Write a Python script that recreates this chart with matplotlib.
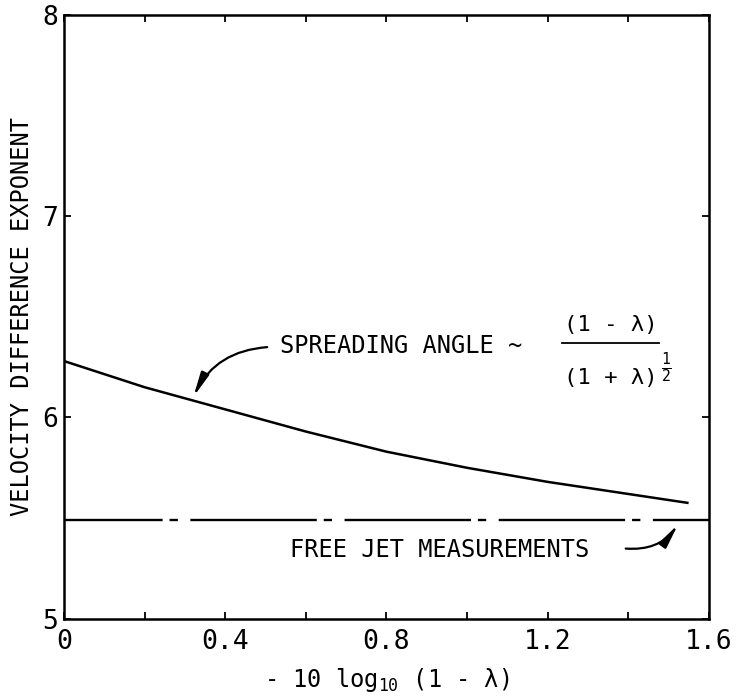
import matplotlib
matplotlib.use('Agg')
import matplotlib.pyplot as plt

plt.rcParams['font.family'] = ['DejaVu Sans Mono', 'DejaVu Sans']
plt.rcParams['mathtext.fontset'] = 'custom'
plt.rcParams['mathtext.rm'] = 'DejaVu Sans Mono'
plt.rcParams['mathtext.it'] = 'DejaVu Sans Mono'
plt.rcParams['lines.scale_dashes'] = False

# curve
spread_x = [0, 0.1, 0.2, 0.3, 0.4, 0.5, 0.6, 0.7, 0.8, 0.9, 1.0, 1.1, 1.2, 1.3, 1.4, 1.45, 1.55]
spread_y = [6.28, 6.215, 6.15, 6.095, 6.04, 5.985, 5.93, 5.88, 5.83, 5.79, 5.75, 5.715, 5.68, 5.65, 5.62, 5.605, 5.575]

# free jet measurements (constant)
jet_x = [0, 1.6]
jet_y = [5.49, 5.49]

x_ticks = [0, 0.2, 0.4, 0.6, 0.8, 1.0, 1.2, 1.4, 1.6]
x_labels = ['0', '', '0.4', '', '0.8', '', '1.2', '', '1.6']
y_ticks = [5, 6, 7, 8]
y_labels = ['5', '6', '7', '8']

fig = plt.figure(figsize=(7.36, 7.0), dpi=100)
ax = fig.add_axes([0.087, 0.116, 0.876, 0.863])

ax.plot(spread_x, spread_y, color='black', lw=1.8, solid_capstyle='butt')
ax.plot(jet_x, jet_y, color='black', lw=1.7,
        linestyle=(20, (91, 5, 6, 9)))

ax.set_xlim(0, 1.6)
ax.set_ylim(5, 8)
ax.set_xticks(x_ticks)
ax.set_xticklabels(x_labels, fontsize=19)
ax.set_yticks(y_ticks)
ax.set_yticklabels(y_labels, fontsize=19)
ax.tick_params(direction='in', length=5, width=1.3, top=True, right=True)
ax.tick_params(axis='x', pad=7)
ax.tick_params(axis='y', pad=4)
for s in ax.spines.values():
    s.set_linewidth(1.8)

ax.set_xlabel(r'- 10 log$_{10}$ (1 - λ)', fontsize=17, labelpad=8)
ax.set_ylabel('VELOCITY DIFFERENCE EXPONENT', fontsize=17, labelpad=6)

arrow_style = '-|>,head_width=0.14,head_length=0.8'

# spreading angle label with the fraction
ax.text(0.536, 6.355, 'SPREADING ANGLE ~', fontsize=17, ha='left', va='center')
frac_x = 1.357
ax.text(frac_x, 6.46, '(1 - λ)', fontsize=16, ha='center', va='center')
ax.plot([frac_x - 0.12, frac_x + 0.12], [6.37, 6.37], color='black', lw=1.3)
ax.text(frac_x, 6.195, '(1 + λ)', fontsize=16, ha='center', va='center')
ax.text(frac_x + 0.125, 6.245, r'$\frac{1}{2}$', fontsize=15, ha='left', va='center')
ax.annotate('', xy=(0.318, 6.09), xytext=(0.511, 6.35),
            arrowprops=dict(arrowstyle=arrow_style, color='black', lw=1.6,
                            mutation_scale=18, connectionstyle='arc3,rad=0.3'))

ax.text(0.561, 5.34, 'FREE JET MEASUREMENTS', fontsize=17, ha='left', va='center')
ax.annotate('', xy=(1.528, 5.48), xytext=(1.387, 5.35),
            arrowprops=dict(arrowstyle=arrow_style, color='black', lw=1.6,
                            mutation_scale=18, connectionstyle='arc3,rad=0.3'))

fig.savefig('out.png', dpi=100)
